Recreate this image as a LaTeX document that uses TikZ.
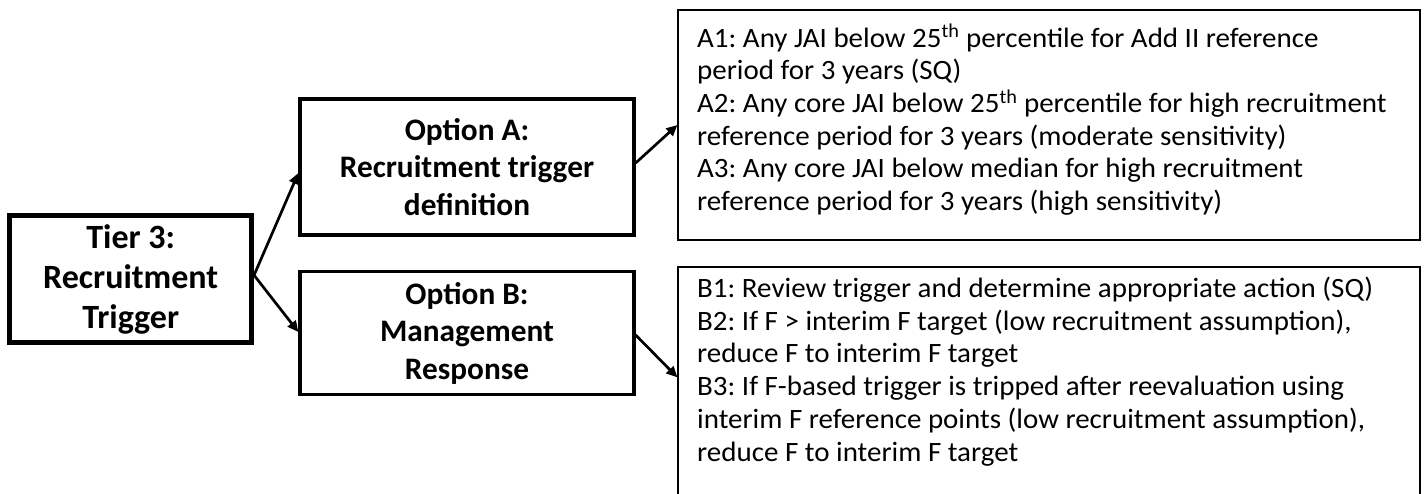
\documentclass[tikz,border=0pt]{standalone}
\usepackage{fontspec}
\setmainfont{Carlito}
\newfontfamily\bodyfont{Carlito}[FakeStretch=1.035]
\usetikzlibrary{arrows.meta,calc}
\begin{document}
\frenchspacing
\begin{tikzpicture}[x=1pt,y=-1pt,
  bigbox/.style={draw, line width=3.3pt, align=center, font=\fontsize{31.3}{37.5}\selectfont\bfseries, inner sep=0pt},
  frame/.style={draw, line width=1.2pt, inner sep=0pt},
  txt/.style={align=left, inner sep=0pt, anchor=base west, font=\bodyfont\fontsize{28}{32.7}\selectfont},
  conn/.style={line width=2.7pt, -{Triangle[length=11pt,width=10pt]}}]
\useasboundingbox (0,0) rectangle (1426,493);
\node[bigbox, line width=5pt, minimum width=241.7pt, minimum height=126.7pt, font=\fontsize{34}{40}\selectfont\bfseries] (tier) at (130.7,279.2) {Tier 3:\\Recruitment\\Trigger};
\node[bigbox, minimum width=334pt, minimum height=136pt] (opta) at (467,167) {Option A:\\Recruitment trigger\\definition};
\node[bigbox, minimum width=334pt, minimum height=122.6pt] (optb) at (467,333) {Option B:\\Management\\Response};
\node[frame, minimum width=742pt, minimum height=230pt] (abox) at (1049,125) {};
\node[frame, minimum width=742pt, minimum height=260pt] (bbox) at (1049,397) {};
\node[txt] (atext) at (697,210.5) {A1: Any JAI below 25\textsuperscript{th} percentile for Add II reference\\period for 3 years (SQ)\\A2: Any core JAI below 25\textsuperscript{th} percentile for high recruitment\\reference period for 3 years (moderate sensitivity)\\A3: Any core JAI below median for high recruitment\\reference period for 3 years (high sensitivity)};
\node[txt] (btext) at (697,461) {B1: Review trigger and determine appropriate action (SQ)\\B2: If F > interim F target (low recruitment assumption),\\reduce F to interim F target\\B3: If F-based trigger is tripped after reevaluation using\\interim F reference points (low recruitment assumption),\\reduce F to interim F target};
\coordinate (bin) at ($(bbox.north west)+(0,111)$);
\draw[conn] ([yshift=4pt]tier.east) -- ([yshift=-6pt]opta.west);
\draw[conn] ([yshift=4pt]tier.east) -- ([yshift=1pt]optb.west);
\draw[conn] ([yshift=4pt]opta.east) -- (abox.west);
\draw[conn] ([yshift=-2pt]optb.east) -- (bin);
\end{tikzpicture}
\end{document}
